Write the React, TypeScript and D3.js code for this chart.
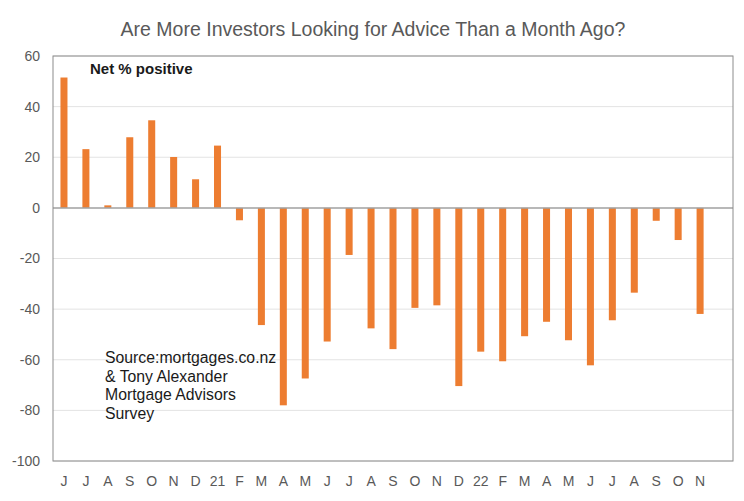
import React from "react";
import * as d3 from "d3";

// month labels, Jun 2020 .. Nov 2022 plus one empty slot at the end
const months = [
  "J", "J", "A", "S", "O", "N", "D", "21", "F", "M", "A", "M", "J", "J", "A",
  "S", "O", "N", "D", "22", "F", "M", "A", "M", "J", "J", "A", "S", "O", "N", "",
];

const netPositive = [
  51.5, 23.2, 1, 27.9, 34.6, 20.1, 11.3, 24.6, -4.9, -46.3, -78, -67.4, -52.8,
  -18.6, -47.6, -55.8, -39.5, -38.5, -70.4, -56.8, -60.6, -50.7, -45, -52.3,
  -62.2, -44.4, -33.5, -5.1, -12.7, -41.9,
];

const yTicks = [60, 40, 20, 0, -20, -40, -60, -80, -100];

const sourceLines = [
  "Source:mortgages.co.nz",
  "& Tony Alexander",
  "Mortgage Advisors",
  "Survey",
];

const W = 744;
const H = 501;
const margin = { top: 56, right: 11, bottom: 40, left: 53 };
const font = "'Liberation Sans', Arial, sans-serif";

export default function App() {
  const innerW = W - margin.left - margin.right;
  const innerH = H - margin.top - margin.bottom;

  const x = d3
    .scaleBand<number>()
    .domain(months.map((_, i) => i))
    .range([0, innerW])
    .paddingInner(0.68)
    .paddingOuter(0.34);

  const y = d3.scaleLinear().domain([-100, 60]).range([innerH, 0]);

  return (
    <svg
      width={W}
      height={H}
      style={{ position: "absolute", left: 0, top: 0, background: "#fff" }}
      fontFamily={font}
    >
      <text
        x={373}
        y={36}
        textAnchor="middle"
        fontSize={19.5}
        fill="#595959"
      >
        Are More Investors Looking for Advice Than a Month Ago?
      </text>
      <g transform={`translate(${margin.left},${margin.top})`}>
        {yTicks
          .filter((t) => t !== 0)
          .map((t) => (
            <line
              key={"g" + t}
              x1={0}
              x2={innerW}
              y1={y(t)}
              y2={y(t)}
              stroke="#e3e3e3"
              strokeWidth={1}
            />
          ))}
        {yTicks.map((t) => (
          <text
            key={"t" + t}
            x={-13}
            y={y(t)}
            dy="0.35em"
            textAnchor="end"
            fontSize={14}
            fill="#595959"
          >
            {t}
          </text>
        ))}
        {netPositive.map((v, i) => (
          <rect
            key={"b" + i}
            x={x(i) ?? 0}
            width={x.bandwidth()}
            y={y(Math.max(0, v))}
            height={Math.abs(y(v) - y(0))}
            fill="#ED7D31"
          />
        ))}
        <line
          x1={0}
          x2={innerW}
          y1={y(0)}
          y2={y(0)}
          stroke="#a0a0a0"
          strokeWidth={1.5}
        />
        <rect
          x={0}
          y={0}
          width={innerW}
          height={innerH}
          fill="none"
          stroke="#8c8c8c"
          strokeWidth={1}
        />
        {months.map((m, i) => (
          <text
            key={"m" + i}
            x={(x(i) ?? 0) + x.bandwidth() / 2}
            y={innerH + 25}
            textAnchor="middle"
            fontSize={14}
            fill="#595959"
          >
            {m}
          </text>
        ))}
        <text x={37} y={18} fontSize={15} fill="#1a1a1a" fontWeight={600}>
          Net % positive
        </text>
        {sourceLines.map((s, i) => (
          <text
            key={"s" + i}
            x={52}
            y={307 + i * 18.5}
            fontSize={15.8}
            fill="#1a1a1a"
          >
            {s}
          </text>
        ))}
      </g>
    </svg>
  );
}
